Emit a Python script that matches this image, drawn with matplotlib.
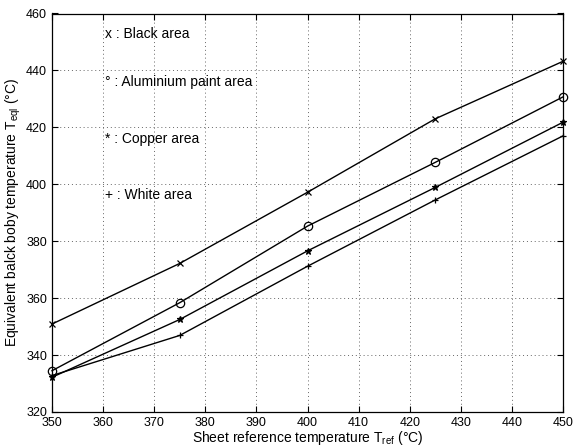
import matplotlib
matplotlib.use("Agg")
import matplotlib.pyplot as plt

plt.rcParams['font.family'] = ['Liberation Sans', 'DejaVu Sans']
plt.rcParams['mathtext.fontset'] = 'custom'
plt.rcParams['mathtext.rm'] = 'Liberation Sans'
plt.rcParams['mathtext.it'] = 'Liberation Sans'

t_ref = [350, 375, 400, 425, 450]
black = [350.9, 372.2, 397.2, 423.0, 443.2]
aluminium = [334.5, 358.4, 385.3, 407.7, 430.7]
copper = [332.2, 352.5, 376.6, 398.9, 421.8]
white = [332.8, 346.9, 371.2, 394.5, 417.0]

series = [
    (black, 'x', "x : Black area", 452.8),
    (aluminium, 'o', "\u00b0 : Aluminium paint area", 436.0),
    (copper, '*', "* : Copper area", 416.0),
    (white, '+', "+ : White area", 396.2),
]

fig = plt.figure(figsize=(5.76, 4.47), dpi=100)
ax = fig.add_axes([52/576, 1 - 412/447, (563-52)/576, (412-13.5)/447])

for vals, mk, label, ty in series:
    ms = 6 if mk == 'o' else 4.5
    ax.plot(t_ref, vals, color='black', lw=1.0, marker=mk, ms=ms,
            mfc='none' if mk == 'o' else 'black', mec='black', mew=0.9,
            clip_on=False, zorder=3)
    ax.text(360.3, ty, label, fontsize=10, va='center', ha='left')

ax.set_xlim(350, 450)
ax.set_ylim(320, 460)
ax.set_xticks(range(350, 451, 10))
ax.set_yticks(range(320, 461, 20))
ax.grid(True, linestyle=(0, (1, 3)), color='#666666', lw=0.7)
ax.tick_params(direction='in', top=True, right=True, labelsize=9, length=4)
for s in ax.spines.values():
    s.set_linewidth(0.9)

ax.set_xlabel(r"Sheet reference temperature T$_{\mathrm{ref}}$ (°C)", fontsize=10, labelpad=0)
ax.set_ylabel(r"Equivalent balck boby temperature T$_{\mathrm{eql}}$ (°C)", fontsize=10, labelpad=2)

fig.savefig("out.png", dpi=100)
